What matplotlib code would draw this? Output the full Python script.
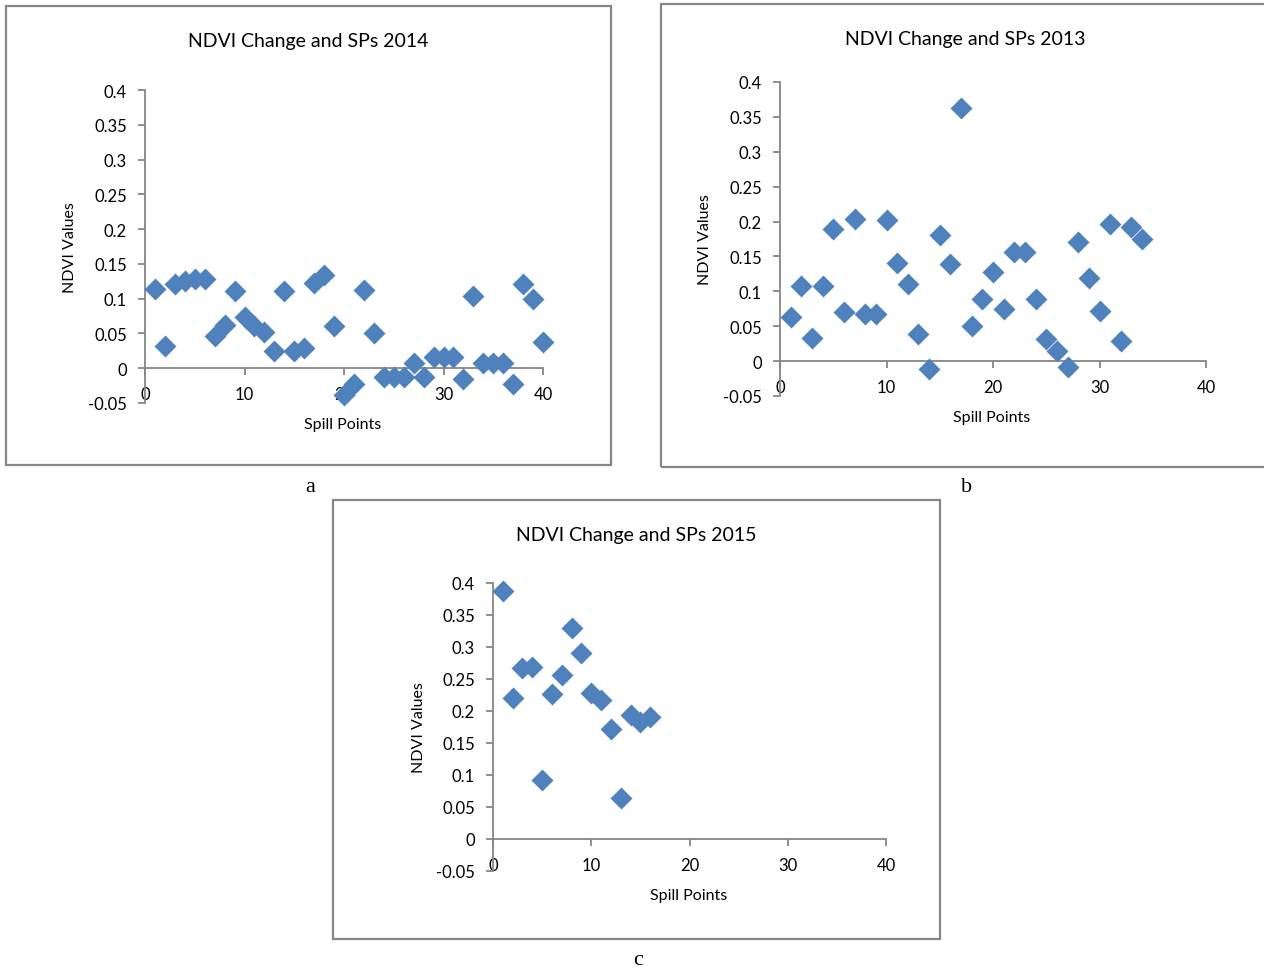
import matplotlib
matplotlib.use("Agg")
import matplotlib.pyplot as plt
from matplotlib.patches import Rectangle

plt.rcParams['font.family'] = ['Lato', 'DejaVu Sans']

# NDVI change per spill point
x_2014 = list(range(1, 41))
ndvi_2014 = [0.114, 0.032, 0.121, 0.125, 0.128, 0.128, 0.047, 0.062, 0.111, 0.074,
             0.061, 0.052, 0.025, 0.111, 0.025, 0.029, 0.122, 0.134, 0.061, -0.038,
             -0.022, 0.112, 0.051, -0.012, -0.012, -0.012, 0.008, -0.012, 0.016, 0.016,
             0.016, -0.015, 0.104, 0.007, 0.007, 0.008, -0.022, 0.121, 0.100, 0.037]

x_2013 = list(range(1, 35))
ndvi_2013 = [0.063, 0.107, 0.033, 0.107, 0.190, 0.071, 0.204, 0.067, 0.067, 0.202,
             0.141, 0.111, 0.039, -0.011, 0.181, 0.139, 0.363, 0.051, 0.089, 0.128,
             0.075, 0.157, 0.157, 0.089, 0.032, 0.015, -0.009, 0.170, 0.119, 0.072,
             0.196, 0.029, 0.192, 0.175]

x_2015 = list(range(1, 17))
ndvi_2015 = [0.388, 0.220, 0.267, 0.268, 0.092, 0.226, 0.256, 0.330, 0.290, 0.228,
             0.217, 0.172, 0.064, 0.193, 0.183, 0.190]

W, H = 1264, 970
fig = plt.figure(figsize=(W / 100, H / 100), dpi=100)
blue = '#4F81BD'
gray = '#868686'
yticks = [-0.05, 0, 0.05, 0.1, 0.15, 0.2, 0.25, 0.3, 0.35, 0.4]
ylabels = ['-0.05', '0', '0.05', '0.1', '0.15', '0.2', '0.25', '0.3', '0.35', '0.4']


def px_rect(l, t, r, b):
    return [l / W, 1 - b / H, (r - l) / W, (b - t) / H]


def panel(box, axpos, x, y, title, title_xy, ylab_xy, xlab_xy, letter_xy, letter):
    l, t, r, b = box
    fig.patches.append(Rectangle((l / W, 1 - b / H), (r - l) / W, (b - t) / H,
                                 transform=fig.transFigure, fill=False,
                                 edgecolor=gray, linewidth=1.6))
    ax = fig.add_axes(px_rect(*axpos))
    ax.scatter(x, y, marker='D', s=125, color=blue, linewidths=0, zorder=3,
               clip_on=False)
    ax.set_xlim(0, 40)
    ax.set_ylim(-0.05, 0.4)
    ax.set_xticks([0, 10, 20, 30, 40])
    ax.set_yticks(yticks)
    ax.set_yticklabels(ylabels)
    for s in ['top', 'right']:
        ax.spines[s].set_visible(False)
    ax.spines['bottom'].set_position(('data', 0))
    for s in ['left', 'bottom']:
        ax.spines[s].set_color(gray)
        ax.spines[s].set_linewidth(1.3)
    ax.tick_params(axis='both', direction='out', length=5, width=1.3,
                   color=gray, labelsize=12, labelcolor='black')
    ax.tick_params(axis='x', pad=8)
    ax.tick_params(axis='y', pad=8)
    ax.patch.set_alpha(0)
    fig.text(title_xy[0] / W, 1 - title_xy[1] / H, title, ha='center',
             va='center', fontsize=14)
    fig.text(ylab_xy[0] / W, 1 - ylab_xy[1] / H, 'NDVI Values', ha='center',
             va='center', rotation=90, fontsize=11.5)
    fig.text(xlab_xy[0] / W, 1 - xlab_xy[1] / H, 'Spill Points', ha='center',
             va='center', fontsize=11.5)
    fig.text(letter_xy[0] / W, 1 - letter_xy[1] / H, letter, ha='center',
             va='center', fontsize=16, family=['Liberation Serif', 'DejaVu Serif'])


panel((6, 7, 611, 466), (145, 91, 543, 404), x_2014, ndvi_2014,
      'NDVI Change and SPs 2014', (308, 41), (70, 248), (343, 425), (310, 488), 'a')
panel((661, 5, 1275, 468), (780, 83, 1206, 397), x_2013, ndvi_2013,
      'NDVI Change and SPs 2013', (965, 39), (705, 240), (992, 418), (967, 488), 'b')
panel((333, 501, 940, 940), (493, 584, 886, 872), x_2015, ndvi_2015,
      'NDVI Change and SPs 2015', (636, 536), (419, 728), (689, 896), (638, 961), 'c')

fig.savefig('out.png', dpi=100)
